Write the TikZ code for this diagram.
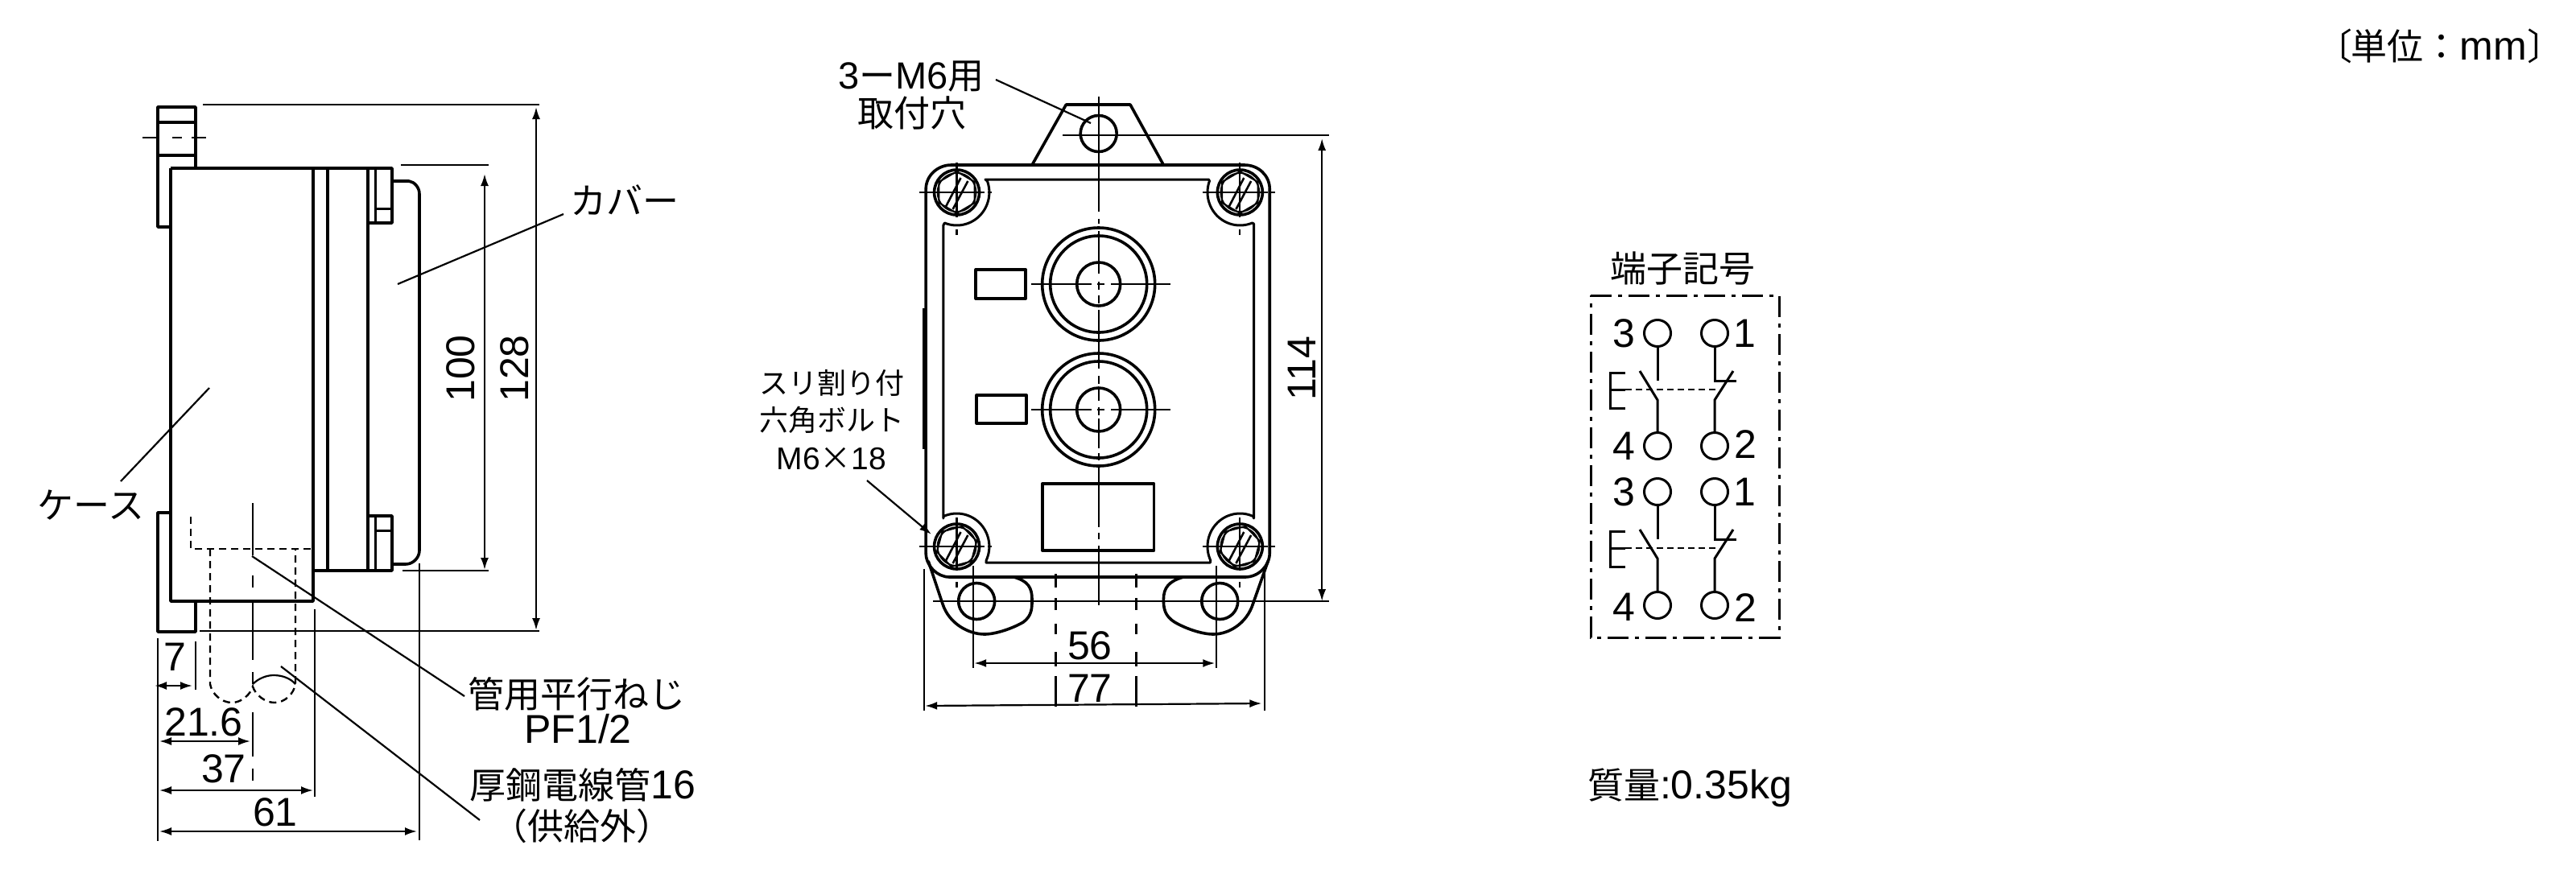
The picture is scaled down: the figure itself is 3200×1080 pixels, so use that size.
\documentclass[tikz,border=0pt]{standalone}
\usepackage{fontspec}
\setmainfont{Liberation Sans}
\newfontfamily\jp{Noto Sans CJK JP}
\usetikzlibrary{arrows.meta}
\newcommand\J[1]{{\jp\fontsize{45}{45}\selectfont #1}}
\newcommand\Js[1]{{\jp\fontsize{36}{36}\selectfont #1}}
\tikzset{
  thickl/.style={line width=3.6pt,line join=round},
  medl/.style={line width=3pt,line join=round},
  thinl/.style={line width=2.2pt},
  dim/.style={line width=2.2pt,{Latex[length=15pt,width=10pt]}-{Latex[length=15pt,width=10pt]}},
  lbl/.style={inner sep=0pt,outer sep=0pt,font=\fontsize{50}{50}\selectfont,align=center},
  smalllbl/.style={inner sep=0pt,outer sep=0pt,font=\fontsize{39}{39}\selectfont,align=center},
  numl/.style={inner sep=0pt,outer sep=0pt,font=\fontsize{50}{50}\selectfont},
  dashl/.style={line width=2.4pt,dash pattern=on 9pt off 6pt},
  termc/.style={line width=3pt},
}
\newcommand\screwat[3]{%
  \begin{scope}[shift={(#1,#2)}]
    \draw[thickl] (0,0) circle[radius=28pt];
    \draw[line width=1.8pt] (0,0) circle[radius=24pt];
    \draw[line width=2pt,line join=round] plot[domain=0:360,samples=7] ({26*cos(\x+#3+30)},{26*sin(\x+#3+30)});
    \draw[line width=2.6pt] (-14,18) -- (5,-18);
    \draw[line width=2.6pt] (-5,21) -- (14,-14);
  \end{scope}}
\newcommand\termblock[1]{%
  \begin{scope}[shift={(0,#1)}]
    \draw[termc] (2059,430) -- (2059,473);
    \draw[termc] (2037,461) -- (2059,497) -- (2059,538);
    \draw[termc] (2130,430) -- (2130,473) -- (2157,473);
    \draw[termc] (2153,461) -- (2130,497) -- (2130,538);
    \draw[line width=2.6pt,dash pattern=on 8pt off 5pt] (2019,484) -- (2135,484);
    \draw[termc] (2019,463) -- (2000,463) -- (2000,507) -- (2019,507);
    \draw[termc] (2000,484) -- (2019,484);
  \end{scope}}
\begin{document}
\begin{tikzpicture}[x=1pt,y=-1pt]
\useasboundingbox (0,0) rectangle (3200,1080);
\fill[white] (0,0) rectangle (3200,1080);

% ---------- side view ----------
\draw[thickl] (212,282) -- (196,282) -- (196,133) -- (243,133) -- (243,209);
\draw[thickl] (196,152) -- (243,152);
\draw[thickl] (196,193) -- (243,193);
\draw[thinl] (177,171) -- (196,171) (214,171) -- (226,171) (238,171) -- (256,171);
\draw[thickl] (212,637) -- (196,637) -- (196,785) -- (243,785) -- (243,747);
\draw[thickl] (212,209) -- (487,209) -- (487,277) -- (457,277);
\draw[thickl] (212,209) -- (212,747) -- (389,747) -- (389,209);
\draw[thickl] (389,709) -- (487,709) -- (487,641) -- (457,641);
\draw[thickl] (407,209) -- (407,709);
\draw[thickl] (457,209) -- (457,709);
\draw[medl] (466,209) -- (466,277);
\draw[medl] (466,259) -- (487,259);
\draw[medl] (466,641) -- (466,709);
\draw[medl] (466,659) -- (487,659);
\draw[thickl] (487,225) -- (508,225) .. controls (515,226) and (521,233) .. (521,241) -- (521,684) .. controls (521,693) and (513,701) .. (504,701) -- (487,701);
% hidden
\draw[dashl] (237,642) -- (237,682) -- (388,682);
\draw[dashl] (261,682) -- (261,850) .. controls (263,862) and (275,873) .. (288,873) .. controls (300,873) and (311,863) .. (314,853) .. controls (317,863) and (329,873) .. (341,873) .. controls (354,873) and (365,862) .. (367,850) -- (367,682);
\draw[thinl] (314,850) .. controls (321,843) and (331,839) .. (340,839) .. controls (351,839) and (361,843) .. (367,850);
% centre line
\draw[thinl] (314,625) -- (314,690) (314,715) -- (314,730) (314,745) -- (314,820) (314,835) -- (314,850) (314,885) -- (314,940) (314,955) -- (314,970);
% extension lines
\draw[thinl] (252,130) -- (670,130);
\draw[thinl] (498,205) -- (607,205);
\draw[thinl] (500,709) -- (607,709);
\draw[thinl] (248,784) -- (670,784);
\draw[thinl] (196,793) -- (196,1045);
\draw[thinl] (243,797) -- (243,857);
\draw[thinl] (391,757) -- (391,990);
\draw[thinl] (521,700) -- (521,1044);
% dims
\draw[dim] (602,216) -- (602,708);
\draw[dim] (666,133) -- (666,783);
\draw[dim] (192,852) -- (239,852);
\draw[dim] (198,921) -- (311,921);
\draw[dim] (198,982) -- (389,982);
\draw[dim] (198,1033) -- (518,1033);
\node[numl,rotate=90] (d100) at (572,458) {100};
\node[numl,rotate=90] (d128) at (639,458) {128};
\node[numl] (d7) at (217,816) {7};
\node[numl] (d216) at (253,897) {21.6};
\node[numl] (d37) at (278,955) {37};
\node[numl] (d61) at (342,1009) {61};
% labels
\node[lbl] (cover) at (776,249) {\J{カバー}};
\node[lbl] (case) at (113,628) {\J{ケース}};
\node[lbl] (pipe1) at (716,862) {\J{管用平行ねじ}};
\node[lbl] (pipe2) at (718,906) {PF1/2};
\node[lbl] (cond1) at (724,975) {\J{厚鋼電線管}16};
\node[lbl] (cond2) at (723,1026) {\J{（供給外）}};
\coordinate (coverEnd) at (700,266);
\coordinate (coverIn) at (494,353);
\coordinate (caseEnd) at (150,598);
\coordinate (caseIn) at (260,482);
\coordinate (pipeEnd) at (577,865);
\coordinate (pipeIn) at (313,691);
\coordinate (condEnd) at (596,1019);
\coordinate (condIn) at (349,828);
\draw[thinl] (coverEnd) -- (coverIn);
\draw[thinl] (caseEnd) -- (caseIn);
\draw[thinl] (pipeEnd) -- (pipeIn);
\draw[thinl] (condEnd) -- (condIn);

% ---------- front view ----------
\begin{scope}[x=0.984pt,xshift=17.6pt]
\draw[thickl] (1285,205) -- (1328,130) -- (1409,130) -- (1451,205);
\draw[thickl] (1369,166) circle[radius=22.5pt];
\draw[thickl] (1151,235) .. controls (1151,218) and (1166,205) .. (1183,205) -- (1553,205) .. controls (1571,205) and (1585,218) .. (1585,235) -- (1585,687) .. controls (1585,703) and (1571,717) .. (1554,717) -- (1181,717) .. controls (1165,717) and (1151,703) .. (1151,687) -- cycle;
\draw[thickl] (1149,383) -- (1149,558);
\draw[medl] (1226,223) -- (1508,223) -- plot[domain=200:68,samples=40] ({1547.5+41*cos(\x)},{239+41*sin(\x)}) -- (1565,278) -- (1565,644) -- plot[domain=294:155,samples=40] ({1547.5+41*cos(\x)},{679+41*sin(\x)}) -- (1510,699) -- (1227,699) -- plot[domain=25:-114,samples=40] ({1190+41*cos(\x)},{679+41*sin(\x)}) -- (1173,644) -- (1173,280) -- plot[domain=112:-20,samples=40] ({1190+41*cos(\x)},{239+41*sin(\x)}) -- cycle;
\screwat{1190}{239}{0}
\screwat{1547.5}{239}{0}
\screwat{1190}{679}{15}
\screwat{1547.5}{679}{15}
\foreach \cx in {1190,1547.5} {
  \draw[thinl] (\cx,202) -- (\cx,270) (\cx,285) -- (\cx,292);
  \draw[thinl] (\cx-47,239) -- (\cx+35,239) (\cx+39,239) -- (\cx+44,239);
  \draw[thinl] (\cx,643) -- (\cx,708) (\cx,723) -- (\cx,730);
  \draw[thinl] (\cx-47,679) -- (\cx+35,679) (\cx+39,679) -- (\cx+44,679);
}
\draw[thickl] (1154,697) -- (1172,750) .. controls (1180,775) and (1205,788) .. (1225,788) .. controls (1240,788) and (1262,780) .. (1274,773) .. controls (1285,765) and (1285,755) .. (1285,745) .. controls (1285,730) and (1280,722) .. (1262,717);
\draw[thickl] (1583,697) -- (1564,750) .. controls (1556,775) and (1533,788) .. (1514,788) .. controls (1498,788) and (1477,780) .. (1465,773) .. controls (1452,765) and (1451,755) .. (1451,745) .. controls (1451,730) and (1458,722) .. (1476,717);
\draw[thickl] (1215,747) circle[radius=22.5pt];
\draw[thickl] (1522,747) circle[radius=22.5pt];
\foreach \cy in {353,509} {
  \draw[thickl] (1369,\cy) circle[radius=70pt];
  \draw[thickl] (1369,\cy) circle[radius=60pt];
  \draw[thickl] (1369,\cy) circle[radius=27pt];
  \draw[thinl] (1284,\cy) -- (1360,\cy) (1367,\cy) -- (1376,\cy) (1385,\cy) -- (1460,\cy);
}
\draw[thickl] (1214,335) rectangle (1277,371);
\draw[thickl] (1215,491) rectangle (1278,526);
\draw[thickl] (1298,601) rectangle (1439,684);
\draw[thinl] (1369,120) -- (1369,263) (1369,272) -- (1369,278) (1369,287) -- (1369,340) (1369,350) -- (1369,360) (1369,367) -- (1369,377) (1369,385) -- (1369,458) (1369,467) -- (1369,477) (1369,483) -- (1369,498) (1369,506) -- (1369,516) (1369,520) -- (1369,557) (1369,563) -- (1369,572) (1369,580) -- (1369,655) (1369,662) -- (1369,670) (1369,678) -- (1369,752);
\foreach \xx in {1315,1416.5}
  \draw[thinl] (\xx,713) -- (\xx,730) (\xx,743) -- (\xx,758) (\xx,775) -- (\xx,788) (\xx,810) -- (\xx,828) (\xx,840) -- (\xx,878);
\draw[thinl] (1324,168) -- (1660,168);
\draw[thinl] (1160,747) -- (1660,747);
\draw[thinl] (1211,703) -- (1211,830);
\draw[thinl] (1518,703) -- (1518,830);
\draw[thinl] (1149,707) -- (1149,883);
\draw[thinl] (1579,710) -- (1579,883);
\draw[dim] (1651,172) -- (1651,747);
\draw[dim] (1212,824) -- (1516,824);
\draw[dim] (1150,877) -- (1575,874);
\node[numl,rotate=90] (d114) at (1626,458) {114};
\node[numl] (d56) at (1358,802) {56};
\node[numl] (d77) at (1358,855) {77};
\end{scope}
\node[lbl,font=\fontsize{47}{47}\selectfont] (hole1) at (1132,95) {3\J{ー}M6\J{用}};
\node[lbl] (hole2) at (1133,140) {\J{取付穴}};
\node[smalllbl] (bolt1) at (1033,476) {\Js{スリ割り付}};
\node[smalllbl] (bolt2) at (1033,522) {\Js{六角ボルト}};
\node[smalllbl] (bolt3) at (1033,570) {M6{\jp ×}18};
\coordinate (holeEnd) at (1237,99);
\coordinate (holeIn) at (1355,153);
\coordinate (boltEnd) at (1077,597);
\coordinate (boltIn) at (1157,664);
\draw[thinl] (holeEnd) -- (holeIn);
\draw[line width=2.2pt,-{Latex[length=15pt,width=10pt]}] (boltEnd) -- (boltIn);

% ---------- terminal symbol ----------
\node[lbl] (termtitle) at (2090,334) {\J{端子記号}};
\draw[line width=3pt,dash pattern=on 26pt off 8pt on 5pt off 8pt] (1976,367) -- (2210,367) -- (2210,792) -- (1976,792) -- cycle;
\foreach \yy in {414,554,611,752} {
  \draw[termc] (2059,\yy) circle[radius=16.5];
  \draw[termc] (2130,\yy) circle[radius=16.5];
}
\termblock{0}
\termblock{197}
\node[numl] (t3a) at (2017,414) {3};
\node[numl] (t1a) at (2167,414) {1};
\node[numl] (t4a) at (2017,554) {4};
\node[numl] (t2a) at (2168,552) {2};
\node[numl] (t3b) at (2017,611) {3};
\node[numl] (t1b) at (2167,611) {1};
\node[numl] (t4b) at (2017,754) {4};
\node[numl] (t2b) at (2168,755) {2};
\node[lbl] (mass) at (2099,979) {\J{質量}:0.35kg};
\node[lbl] (unit) at (3031,57) {\J{〔\kern-2pt 単位：}mm\J{〕}};
\end{tikzpicture}
\end{document}
